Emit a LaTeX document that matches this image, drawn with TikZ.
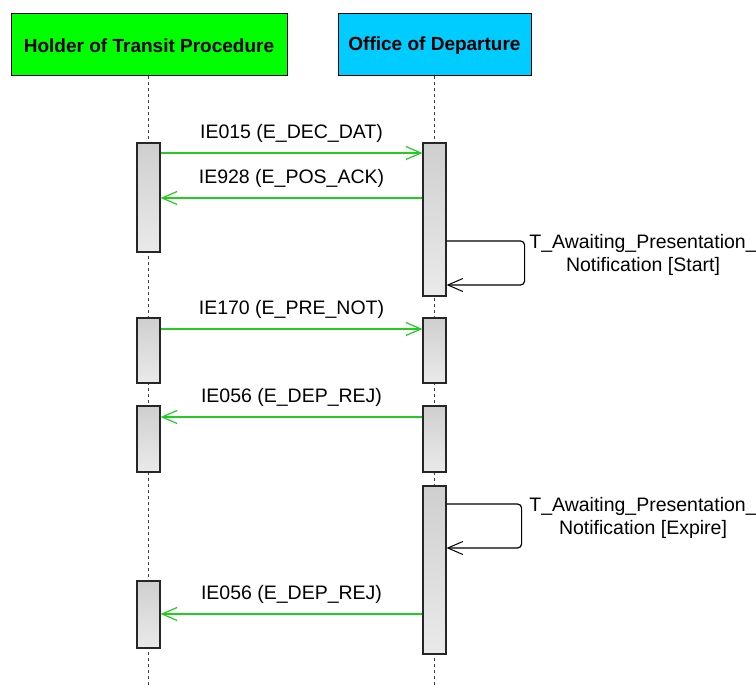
\documentclass[tikz,border=0pt]{standalone}
\usepackage{fontspec}
\setmainfont{Liberation Sans}
\usetikzlibrary{arrows.meta}
\definecolor{actgreen}{HTML}{00FF00}
\definecolor{actblue}{HTML}{00CCFF}
\definecolor{msggreen}{HTML}{22CC22}
\definecolor{lifegray}{HTML}{404040}
\definecolor{acttop}{HTML}{CFCFCF}
\definecolor{actbot}{HTML}{EAEAEA}
\begin{document}
\begin{tikzpicture}[x=1pt,y=-1pt,
  actor/.style={draw=black, line width=1pt, rectangle, inner sep=0pt,
    font=\fontsize{19}{22}\selectfont\bfseries},
  lifeline/.style={draw=lifegray, line width=1pt, dash pattern=on 3pt off 3pt},
  activation/.style={draw=black!85, line width=1.2pt, rectangle, inner sep=0pt,
    minimum width=23pt, top color=acttop, bottom color=actbot},
  msgarrow/.style={draw=msggreen, line width=1.6pt,
    -{Straight Barb[length=15pt,width=13pt,line width=1.2pt]}},
  selfloop/.style={draw=black, line width=1.2pt, rounded corners=4pt,
    -{Straight Barb[length=15pt,width=13pt,line width=1pt]}},
  msglabel/.style={font=\fontsize{19.5}{22}\selectfont, yshift=20pt},
  looplabel/.style={font=\fontsize{19.5}{23}\selectfont, align=center}
]
\useasboundingbox (0,0) rectangle (756,688);
\fill[white] (0,0) rectangle (756,688);

% actors
\node[actor, fill=actgreen, minimum width=276pt, minimum height=62pt] (holder) at (149,44) {};
\node[font=\fontsize{19}{22}\selectfont\bfseries] (holdertext) at ([yshift=-2pt]holder.center) {Holder of Transit Procedure};
\node[actor, fill=actblue, minimum width=193pt, minimum height=62pt] (office) at (434.5,44) {};
\node[font=\fontsize{19}{22}\selectfont\bfseries] (officetext) at ([yshift=-2pt]office.center) {Office of Departure};

% lifelines
\coordinate (holderend) at (148.5,688);
\coordinate (officeend) at (434,688);
\draw[lifeline] (holder.south -| holderend) -- (holderend);
\draw[lifeline] (office.south -| officeend) -- (officeend);

% activations
\node[activation, minimum height=109pt] (A1) at (148.5,197.5) {};
\node[activation, minimum height=153pt] (B1) at (434.5,219.5) {};
\node[activation, minimum height=65pt] (A2) at (148.5,350.5) {};
\node[activation, minimum height=65pt] (B2) at (434.5,350.5) {};
\node[activation, minimum height=66pt] (A3) at (148.5,439) {};
\node[activation, minimum height=66pt] (B3) at (434.5,439) {};
\node[activation, minimum height=168pt] (B4) at (434.5,570) {};
\node[activation, minimum height=67pt] (A5) at (148.5,614.5) {};

% message levels
\coordinate (m1) at (0,153);
\coordinate (m2) at (0,198);
\coordinate (m3) at (0,329);
\coordinate (m4) at (0,417);
\coordinate (m5) at (0,614);
\coordinate (s1a) at (0,241);
\coordinate (s1b) at (0,285);
\coordinate (s2a) at (0,504);
\coordinate (s2b) at (0,548);

\draw[msgarrow] (A1.east |- m1) -- node[msglabel] (l1) {IE015 (E\_DEC\_DAT)} (B1.west |- m1);
\draw[msgarrow] (B1.west |- m2) -- node[msglabel] (l2) {IE928 (E\_POS\_ACK)} (A1.east |- m2);
\draw[msgarrow] (A2.east |- m3) -- node[msglabel] (l3) {IE170 (E\_PRE\_NOT)} (B2.west |- m3);
\draw[msgarrow] (B3.west |- m4) -- node[msglabel] (l4) {IE056 (E\_DEP\_REJ)} (A3.east |- m4);
\draw[msgarrow] (B4.west |- m5) -- node[msglabel] (l5) {IE056 (E\_DEP\_REJ)} (A5.east |- m5);

% self messages
\draw[selfloop] (B1.east |- s1a) -- ++(78,0) -- ++(0,44) -- (B1.east |- s1b);
\node[looplabel] (t1) at (643,255) {T\_Awaiting\_Presentation\_\\Notification [Start]};
\draw[selfloop] (B4.east |- s2a) -- ++(75,0) -- ++(0,44) -- (B4.east |- s2b);
\node[looplabel] (t2) at (643,518) {T\_Awaiting\_Presentation\_\\Notification [Expire]};
\end{tikzpicture}
\end{document}
